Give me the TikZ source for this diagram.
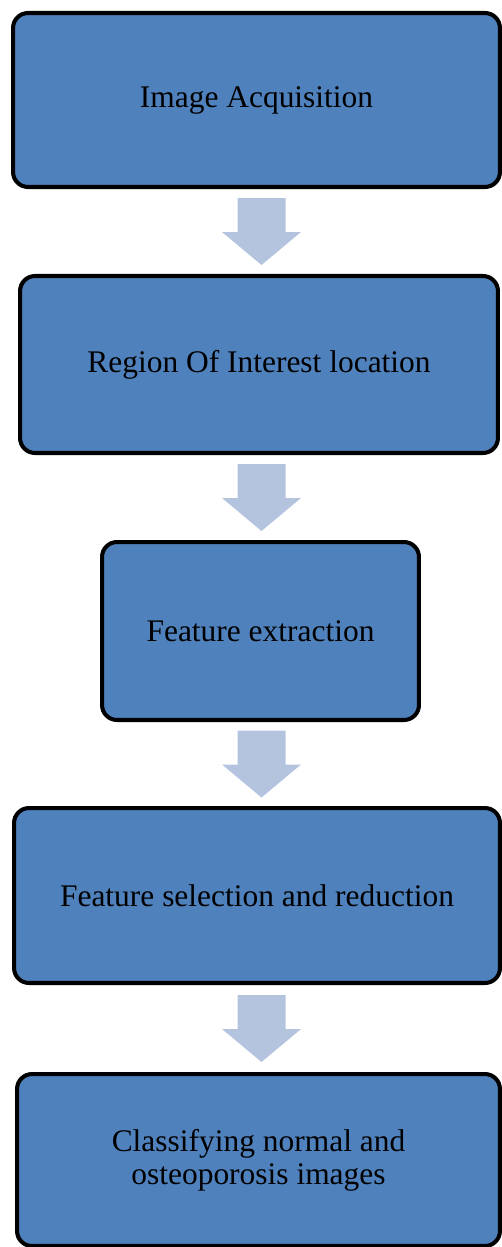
\documentclass[tikz,border=0pt]{standalone}
\usepackage{fontspec}
\setmainfont{Liberation Serif}
\usetikzlibrary{calc}

\definecolor{boxblue}{HTML}{4F81BD}
\definecolor{arrowblue}{HTML}{B4C4DF}

\begin{document}
\begin{tikzpicture}[x=0.02cm, y=-0.02cm,
    stage/.style={draw=black, line width=2.3pt, fill=boxblue, rounded corners=0.3cm,
        align=center, inner sep=0pt, font=\fontsize{17.9}{18.7}\selectfont},
    flowarrow/.style={fill=arrowblue}]

    \useasboundingbox (0,0) rectangle (502,1247);

    %% Stages

    \node[stage, minimum width=9.74cm, minimum height=3.48cm] (acq) at (256.5,100) {Image Acquisition};
    \node[stage, minimum width=9.56cm, minimum height=3.54cm] (roi) at (259,364.5) {Region Of Interest location};
    \node[stage, minimum width=6.34cm, minimum height=3.56cm] (feat) at (260.5,631) {Feature extraction};
    \node[stage, minimum width=9.72cm, minimum height=3.50cm] (sel) at (257,895.5) {Feature selection and reduction};
    \node[stage, minimum width=9.66cm, minimum height=3.44cm] (cls) at (258.5,1160) {Classifying normal and\\osteoporosis images};

    %% Block arrows between stages
    \coordinate (axis) at (261.5,0);
    \foreach \a/\b in {acq/roi, roi/feat, feat/sel, sel/cls} {
        \coordinate (m) at ($(\a.south)!0.5!(\b.north)$);
        \fill[flowarrow, shift={(m -| axis)}] (-24,-33.5) -- (24,-33.5) -- (24,0.5) -- (39.5,0.5)
            -- (0,33.5) -- (-39.5,0.5) -- (-24,0.5) -- cycle;
    }

\end{tikzpicture}
\end{document}
